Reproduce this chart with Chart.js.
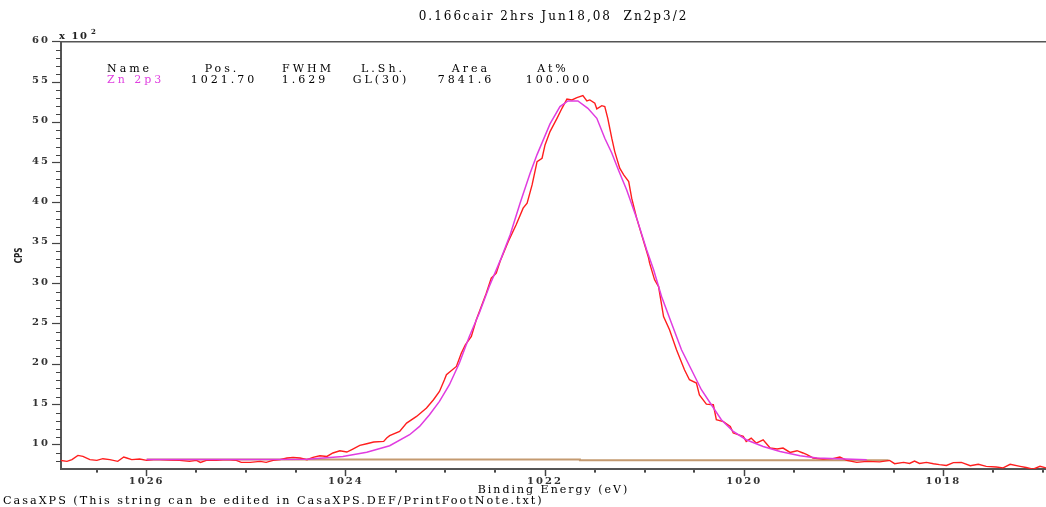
<!DOCTYPE html>
<html><head><meta charset="utf-8">
<script src="https://cdn.jsdelivr.net/npm/chart.js@4.4.1/dist/chart.umd.min.js"></script>
<style>html,body{margin:0;padding:0;background:#fff;}canvas{display:block;}</style>
</head><body>
<canvas id="c" width="1046" height="507"></canvas>
<script>
const titleText = '0.166cair 2hrs Jun18,08  Zn2p3/2';
const footText = 'CasaXPS (This string can be edited in CasaXPS.DEF/PrintFootNote.txt)';
const xAxisTitle = 'Binding Energy (eV)';
const yAxisTitle = 'CPS';
const xTickValues = [1026, 1024, 1022, 1020, 1018];
const yTickValues = [10, 15, 20, 25, 30, 35, 40, 45, 50, 55, 60];
const tableHeaders = ['Name', 'Pos.', 'FWHM', 'L.Sh.', 'Area', 'At%'];
const tableRow = ['Zn 2p3', '1021.70', '1.629', 'GL(30)', '7841.6', '100.000'];

// measured spectrum (binding energy, CPS x 10^2)
const measuredE = [
1026.87,1026.80,1026.75,1026.69,1026.64,1026.57,1026.50,1026.44,1026.37,1026.29,
1026.23,1026.20,1026.15,1026.07,1026.00,1025.93,1025.87,1025.77,1025.67,1025.57,
1025.50,1025.46,1025.40,1025.30,1025.20,1025.10,1025.05,1024.96,1024.86,1024.80,
1024.73,1024.66,1024.59,1024.53,1024.46,1024.39,1024.33,1024.26,1024.19,1024.13,
1024.06,1023.99,1023.93,1023.86,1023.79,1023.72,1023.62,1023.59,1023.56,1023.46,
1023.39,1023.29,1023.19,1023.12,1023.06,1023.01,1022.99,1022.89,1022.84,1022.80,
1022.74,1022.69,1022.64,1022.59,1022.54,1022.49,1022.45,1022.37,1022.29,1022.22,
1022.18,1022.13,1022.08,1022.03,1022.00,1021.95,1021.88,1021.83,1021.78,1021.73,
1021.68,1021.62,1021.58,1021.55,1021.50,1021.48,1021.43,1021.40,1021.37,1021.33,
1021.30,1021.25,1021.21,1021.16,1021.13,1021.08,1021.03,1020.96,1020.95,1020.90,
1020.86,1020.81,1020.75,1020.68,1020.60,1020.55,1020.48,1020.45,1020.38,1020.31,
1020.28,1020.21,1020.14,1020.11,1020.01,1019.98,1019.93,1019.88,1019.81,1019.74,
1019.67,1019.61,1019.54,1019.47,1019.41,1019.37,1019.31,1019.21,1019.11,1019.04,
1018.97,1018.87,1018.77,1018.64,1018.54,1018.49,1018.40,1018.34,1018.29,1018.24,
1018.17,1018.10,1018.04,1017.97,1017.90,1017.82,1017.73,1017.65,1017.57,1017.47,
1017.40,1017.33,1017.23,1017.17,1017.10,1017.03,1016.97];
const measuredCPS = [
8.08,7.96,8.17,8.70,8.57,8.17,8.08,8.29,8.17,7.96,
8.50,8.38,8.17,8.25,8.08,8.17,8.17,8.13,8.08,7.96,
8.08,7.83,8.08,8.08,8.17,8.08,7.83,7.83,7.96,7.83,
8.08,8.17,8.38,8.45,8.38,8.17,8.45,8.66,8.57,9.00,
9.28,9.12,9.49,9.94,10.15,10.36,10.43,10.85,11.14,11.67,
12.71,13.53,14.57,15.60,16.63,18.08,18.70,19.73,21.39,22.42,
23.45,25.51,27.16,28.82,30.68,31.30,32.80,35.20,37.29,39.36,
39.98,42.24,45.13,45.55,47.20,48.85,50.50,51.74,52.90,52.78,
53.06,53.31,52.65,52.78,52.37,51.66,52.07,51.95,50.50,48.03,
46.37,44.31,43.48,42.65,40.59,38.12,36.05,33.16,32.54,30.47,
29.64,25.92,24.27,21.80,19.32,18.08,17.67,16.20,15.05,14.98,
13.12,12.90,12.29,11.47,11.05,10.43,10.85,10.23,10.64,9.61,
9.49,9.61,9.07,9.28,9.00,8.79,8.38,8.25,8.30,8.50,
8.08,7.83,7.96,7.90,8.08,7.67,7.83,7.70,8.00,7.70,
7.83,7.67,7.55,7.45,7.80,7.83,7.42,7.60,7.34,7.26,
7.15,7.60,7.34,7.20,7.00,7.34,7.15];

// fitted envelope
const envelopeE = [1026.00,1025.00,1024.39,1024.03,1023.79,1023.56,1023.36,1023.26,1023.16,1023.06,
1022.96,1022.86,1022.76,1022.66,1022.56,1022.44,1022.35,1022.25,1022.15,1022.08,
1021.95,1021.85,1021.77,1021.67,1021.57,1021.48,1021.40,1021.33,1021.26,1021.18,
1021.08,1020.98,1020.91,1020.83,1020.73,1020.63,1020.53,1020.43,1020.33,1020.23,
1020.11,1019.98,1019.81,1019.64,1019.44,1019.27,1018.77];
const envelopeCPS = [8.20,8.20,8.22,8.55,9.10,9.90,11.26,12.29,13.74,15.39,
17.46,20.15,23.45,26.35,29.64,33.16,36.05,40.00,43.70,46.00,
49.80,51.95,52.65,52.65,51.74,50.50,48.03,46.20,44.00,41.60,
38.12,34.19,31.71,28.40,25.10,21.80,19.32,16.84,14.98,13.12,
11.67,10.64,9.81,9.19,8.66,8.38,8.17];

// background
const backgroundE = [1026.00, 1021.65, 1021.65, 1018.55];
const backgroundCPS = [8.20, 8.20, 8.10, 8.10];

const pts = (xs, ys) => xs.map((e, i) => ({x: e, y: ys[i]}));
const SERIF = '"DejaVu Serif", serif';

const spacingPlugin = {
  id: 'spacing',
  beforeUpdate(c) { c.ctx.letterSpacing = '2px'; },
  beforeLayout(c) { c.ctx.letterSpacing = '2px'; },
  beforeDraw(c) { c.ctx.letterSpacing = '2px'; }
};

const decorPlugin = {
  id: 'decor',
  afterDraw(chart) {
    const {ctx, chartArea: a, scales: {x, y}} = chart;
    ctx.save();
    ctx.letterSpacing = '0px';
    ctx.strokeStyle = '#555'; ctx.lineWidth = 1.5;
    ctx.beginPath(); ctx.moveTo(a.left, a.top); ctx.lineTo(a.right, a.top); ctx.stroke();
    ctx.strokeStyle = '#444'; ctx.lineWidth = 1;
    for (let v = 8; v < 60; v++) {
      if (v % 5 === 0) continue;
      const py = Math.round(y.getPixelForValue(v)) + 0.5;
      ctx.beginPath(); ctx.moveTo(a.left - 5, py); ctx.lineTo(a.left, py); ctx.stroke();
    }
    ctx.fillStyle = '#444';
    for (let k = 0; k <= 19; k++) {
      const e = 1026.5 - k * 0.5;
      if (Math.abs(e % 2) < 1e-6) continue;
      const px = x.getPixelForValue(e);
      ctx.fillRect(Math.round(px) - 1, a.bottom + 1, 2, 2.5);
    }
    // y axis title (narrow, rotated)
    ctx.save();
    ctx.translate(19, (a.top + a.bottom) / 2);
    ctx.rotate(-Math.PI / 2);
    ctx.scale(0.72, 1);
    ctx.font = 'bold 10px "DejaVu Sans", sans-serif';
    ctx.fillStyle = '#222'; ctx.textAlign = 'center'; ctx.textBaseline = 'middle';
    ctx.fillText(yAxisTitle, 0, 0);
    ctx.restore();
    ctx.fillStyle = '#222'; ctx.letterSpacing = '1.5px';
    ctx.textAlign = 'left'; ctx.textBaseline = 'alphabetic';
    ctx.font = 'bold 10px ' + SERIF; ctx.fillText('x 10', 59, 39.3);
    ctx.font = 'bold 7px ' + SERIF; ctx.fillText('2', 91, 34.3);
    ctx.font = '11px ' + SERIF; ctx.letterSpacing = '3px';
    const hc = [107, 222, 308, 383, 471, 553];
    const rc = [107, 224, 305, 381, 466, 559];
    tableHeaders.forEach((t, i) => {
      ctx.textAlign = i === 0 ? 'left' : 'center';
      ctx.fillStyle = '#000';
      ctx.fillText(t, hc[i], 71.7);
    });
    tableRow.forEach((t, i) => {
      ctx.textAlign = i === 0 ? 'left' : 'center';
      ctx.fillStyle = i === 0 ? '#e040e0' : '#000';
      ctx.fillText(t, rc[i], 83.3);
    });
    ctx.restore();
  }
};

new Chart(document.getElementById('c'), {
  type: 'line',
  data: {
    datasets: [
      {label: 'Envelope', data: pts(envelopeE, envelopeCPS), borderColor: '#e03ce0', borderWidth: 1.5, pointRadius: 0, tension: 0, fill: false},
      {label: 'Zn 2p3', data: pts(measuredE, measuredCPS), borderColor: '#ff1e1e', borderWidth: 1.4, pointRadius: 0, tension: 0, fill: false},
      {label: 'Background', data: pts(backgroundE, backgroundCPS), borderColor: '#c49a70', borderWidth: 2, pointRadius: 0, tension: 0, fill: false}
    ]
  },
  options: {
    responsive: false, animation: false, devicePixelRatio: 1,
    layout: {padding: {left: 3, right: 0, top: 0, bottom: 0}},
    plugins: {
      legend: {display: false}, tooltip: {enabled: false},
      title: {display: true, text: titleText, fullSize: false, color: '#000',
        font: {family: SERIF, size: 12, lineHeight: 1, weight: 'normal'}, padding: {top: 11, bottom: 18.7}},
      subtitle: {display: true, text: footText, position: 'bottom', align: 'start', fullSize: true, color: '#000',
        font: {family: SERIF, size: 11.2, lineHeight: 1}, padding: {top: 0, bottom: 0}}
    },
    scales: {
      x: {
        type: 'linear', reverse: true, min: 1016.97, max: 1026.86,
        afterBuildTicks: s => { s.ticks = xTickValues.map(v => ({value: v})); },
        afterFit: s => { s.height = 26.7; s.paddingLeft = 0; s.paddingRight = 0; },
        ticks: {callback: v => String(v), autoSkip: false, maxRotation: 0, padding: 0, color: '#333',
          font: {family: SERIF, size: 10, lineHeight: 1, weight: 'bold'}},
        grid: {display: true, drawOnChartArea: false, drawTicks: true, tickLength: 7, tickColor: '#444', tickWidth: 1.5},
        border: {display: true, color: '#555', width: 2},
        title: {display: true, text: xAxisTitle, color: '#000', font: {family: SERIF, size: 11, lineHeight: 1}, padding: {top: 0, bottom: 0}}
      },
      y: {
        type: 'linear', min: 7, max: 60,
        afterBuildTicks: s => { s.ticks = yTickValues.map(v => ({value: v})); },
        afterFit: s => { s.width = 58; s.paddingTop = 0; s.paddingBottom = 0; },
        ticks: {callback: v => String(v), autoSkip: false, padding: 2, labelOffset: -1.5, color: '#333',
          font: {family: SERIF, size: 10, lineHeight: 1, weight: 'bold'}},
        grid: {display: true, drawOnChartArea: false, drawTicks: true, tickLength: 9, tickColor: '#444', tickWidth: 1.2},
        border: {display: true, color: '#555', width: 2},
        title: {display: false, text: yAxisTitle}
      }
    }
  },
  plugins: [spacingPlugin, decorPlugin]
});
</script>
</body></html>
